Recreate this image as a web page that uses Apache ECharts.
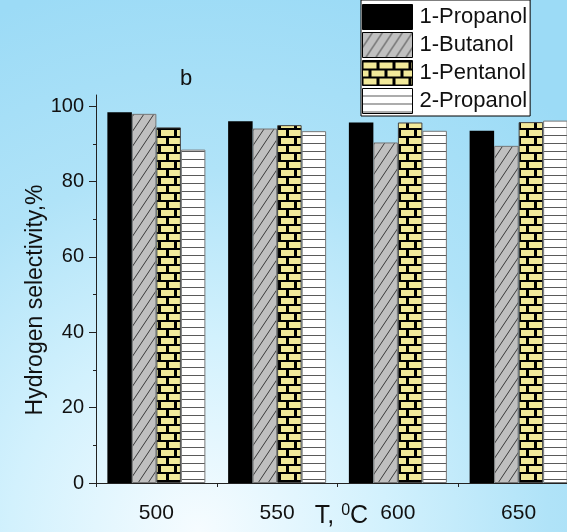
<!DOCTYPE html>
<html>
<head>
<meta charset="utf-8">
<script src="https://cdn.jsdelivr.net/npm/echarts@6/dist/echarts.min.js"></script>
<style>
html,body{margin:0;padding:0;}
#chart{width:567px;height:532px;background:radial-gradient(ellipse 95% 105% at 35% 100%, #f6fcff 0%, #d2f1fd 35%, #b0e3f8 65%, #9cdbf6 100%);}
</style>
</head>
<body>
<div id="chart"></div>
<script>
const categories = ['500', '550', '600', '650'];
const seriesNames = ['1-Propanol', '1-Butanol', '1-Pentanol', '2-Propanol'];
const propanol1 = [98.4, 96.0, 95.7, 93.5];
const butanol1 = [98.0, 94.1, 90.4, 89.5];
const pentanol1 = [94.4, 95.0, 95.7, 95.8];
const propanol2 = [88.5, 93.4, 93.5, 96.2];
const yTicks = [0, 20, 40, 60, 80, 100];
const yMinorTicks = [10, 30, 50, 70, 90];

function makeCanvas(w, h, draw) {
  const c = document.createElement('canvas');
  c.width = w; c.height = h;
  draw(c.getContext('2d'), w, h);
  return c;
}
const hatch = makeCanvas(10, 15, (g, w, h) => {
  g.fillStyle = '#c0c0c0'; g.fillRect(0, 0, w, h);
  g.strokeStyle = '#3a3a3a'; g.lineWidth = 1;
  for (const dx of [-w, 0, w]) {
    g.beginPath(); g.moveTo(dx, h); g.lineTo(dx + w, 0); g.stroke();
  }
});
const brick = makeCanvas(16, 16, (g, w, h) => {
  g.fillStyle = '#000'; g.fillRect(0, 0, w, h);
  g.fillStyle = '#f2e99a';
  g.fillRect(1, 2, 13, 6);
  g.fillRect(9, 10, 13, 6);
  g.fillRect(-7, 10, 13, 6);
});
const hlines = makeCanvas(8, 8, (g, w, h) => {
  g.fillStyle = '#ffffff'; g.fillRect(0, 0, w, h);
  g.fillStyle = '#5a5a5a'; g.fillRect(0, 7, w, 1.3);
});

const styles = [
  { color: '#000000', borderColor: '#000000', borderWidth: 0 },
  { color: { image: hatch, repeat: 'repeat' }, borderColor: '#777', borderWidth: 1 },
  { color: { image: brick, repeat: 'repeat' }, borderColor: '#444', borderWidth: 1 },
  { color: { image: hlines, repeat: 'repeat' }, borderColor: '#777', borderWidth: 1 }
];
const values = [propanol1, butanol1, pentanol1, propanol2];

const chart = echarts.init(document.getElementById('chart'), null, { renderer: 'canvas' });
const font = 'Liberation Sans, Arial, sans-serif';
chart.setOption({
  animation: false,
  backgroundColor: 'transparent',
  textStyle: { fontFamily: font },
  title: {
    text: 'b', left: 175, top: 63,
    textStyle: { fontSize: 22, fontWeight: 'normal', color: '#111', fontFamily: font }
  },
  legend: {
    left: 361, top: 0,
    orient: 'vertical',
    backgroundColor: '#ffffff',
    borderColor: '#000', borderWidth: 1,
    padding: [4, 3, 2, 1],
    itemGap: 2,
    itemWidth: 50, itemHeight: 25,
    icon: 'rect',
    itemStyle: { borderColor: '#000', borderWidth: 1 },
    textStyle: { fontSize: 22, color: '#111', fontFamily: font, padding: [0, 0, 0, 2] },
    data: seriesNames
  },
  grid: { left: 96, top: 95, width: 483, bottom: 49, containLabel: false, outerBoundsMode: 'none' },
  xAxis: [{
    type: 'category', data: categories,
    axisLine: { lineStyle: { color: '#222', width: 1 } },
    axisTick: { alignWithLabel: true, length: 5, lineStyle: { color: '#222' } },
    axisLabel: { fontSize: 21, color: '#111', margin: 20, fontFamily: font },
    name: 'T, {sup|0}C', nameLocation: 'middle', nameGap: 20, nameMoveOverlap: false,
    nameTextStyle: {
      fontSize: 25, color: '#111', fontFamily: font, verticalAlign: 'top', padding: [0, 0, 0, 8],
      rich: { sup: { fontSize: 16, verticalAlign: 'top', padding: [0, 0, 10, 0], color: '#111', fontFamily: font } }
    }
  }, {
    type: 'category', data: categories, position: 'bottom',
    axisLine: { show: false },
    axisTick: { show: true, length: 4, lineStyle: { color: '#222' } },
    axisLabel: { show: false }
  }],
  yAxis: [{
    type: 'value', min: 0, max: 103, interval: 20,
    axisLine: { show: true, lineStyle: { color: '#222', width: 1 } },
    axisTick: { show: true, length: 7, customValues: yTicks, lineStyle: { color: '#222' } },
    axisLabel: { fontSize: 20, color: '#111', margin: 12, customValues: yTicks, fontFamily: font },
    splitLine: { show: false },
    name: 'Hydrogen selectivity,%', nameLocation: 'middle', nameRotate: 90, nameGap: 49, nameMoveOverlap: false,
    nameTextStyle: { fontSize: 23, color: '#111', fontFamily: font, padding: [0, 22, 0, 0] }
  }, {
    type: 'value', min: 0, max: 103, position: 'left',
    axisLine: { show: false },
    axisTick: { show: true, length: 3, customValues: yMinorTicks, lineStyle: { color: '#222' } },
    axisLabel: { show: false },
    splitLine: { show: false }
  }],
  series: seriesNames.map((name, i) => ({
    name, type: 'bar', xAxisIndex: 0, yAxisIndex: 0,
    data: values[i],
    barWidth: 24.5, barGap: '0%',
    itemStyle: styles[i]
  }))
});
</script>
</body>
</html>
